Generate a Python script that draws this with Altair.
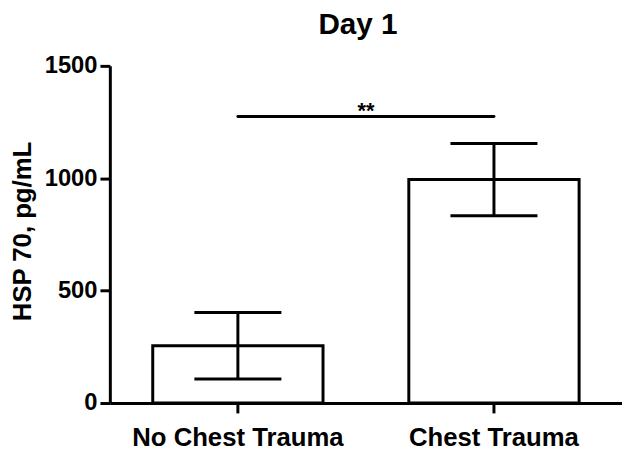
import altair as alt
import pandas as pd

# ---- data ----
groups = ["No Chest Trauma", "Chest Trauma"]
means = [255, 994]
upper = [403, 1155]
lower = [107, 833]
sig_start = ["No Chest Trauma"]
sig_end = ["Chest Trauma"]
sig_y = [1275]
sig_label = ["**"]
y_ticks = [0, 500, 1000, 1500]
chart_title = "Day 1"
y_title = "HSP 70, pg/mL"

df = pd.DataFrame({"group": groups, "mean": means, "upper": upper, "lower": lower})
sig = pd.DataFrame({"start": sig_start, "end": sig_end, "y": sig_y, "label": sig_label})

FONT = "Liberation Sans"

xscale = alt.Scale(domain=groups, paddingInner=0.335, paddingOuter=0.1675)
yscale = alt.Scale(domain=[0, 1500], nice=False, zero=True)

x_axis = alt.Axis(
    title=None, labelAngle=0, labelFont=FONT, labelFontSize=26, labelFontWeight="bold",
    labelColor="black", labelPadding=12, labelLimit=0, tickSize=10, tickWidth=3,
    tickColor="black", domainWidth=3, domainColor="black", grid=False,
)
y_axis = alt.Axis(
    values=y_ticks, format="d", title=y_title, titleFont=FONT, titleFontSize=26,
    titleFontWeight="bold", titleColor="black", titleAngle=270, titleX=-80, titleY=167,
    titleBaseline="alphabetic", titleAlign="center", titleLimit=0,
    labelFont=FONT, labelFontSize=24, labelFontWeight="bold", labelColor="black",
    labelPadding=3, tickSize=10, tickWidth=3, tickColor="black",
    domainWidth=3, domainColor="black", grid=False,
)

base = alt.Chart(df)

bars = base.mark_bar(fill="white", stroke="black", strokeWidth=3).encode(
    x=alt.X("group:N", scale=xscale, axis=x_axis),
    y=alt.Y("mean:Q", scale=yscale, axis=y_axis),
)

stems = base.mark_rule(color="black", strokeWidth=3).encode(
    x=alt.X("group:N", scale=xscale),
    y=alt.Y("lower:Q", scale=yscale),
    y2="upper:Q",
)

caps_hi = base.mark_tick(color="black", size=88, thickness=3, opacity=1).encode(
    x=alt.X("group:N", scale=xscale),
    y=alt.Y("upper:Q", scale=yscale),
)
caps_lo = base.mark_tick(color="black", size=88, thickness=3, opacity=1).encode(
    x=alt.X("group:N", scale=xscale),
    y=alt.Y("lower:Q", scale=yscale),
)

sig_line = alt.Chart(sig).mark_rule(color="black", strokeWidth=3, strokeCap="round").encode(
    x=alt.X("start:N", scale=xscale),
    x2="end:N",
    y=alt.Y("y:Q", scale=yscale),
)

sig_text = alt.Chart(sig).mark_text(
    font=FONT, fontSize=22, fontWeight="bold", color="black",
    align="center", baseline="alphabetic", dx=129.5, dy=2,
).encode(
    x=alt.X("start:N", scale=xscale),
    y=alt.Y("y:Q", scale=yscale),
    text="label:N",
)

chart = alt.layer(bars, stems, caps_hi, caps_lo, sig_line, sig_text).properties(
    width=518,
    height=341,
    autosize="none",
    background="white",
    padding={"left": 103, "top": 56, "right": 0, "bottom": 46},
    title=alt.TitleParams(
        chart_title, font=FONT, fontSize=30, fontWeight="bold", color="black",
        anchor="middle", frame="group", baseline="alphabetic", offset=-10, dx=-8,
    ),
).configure_view(stroke=None)

chart.save("out.html", embed_options={"renderer": "svg", "actions": False})
